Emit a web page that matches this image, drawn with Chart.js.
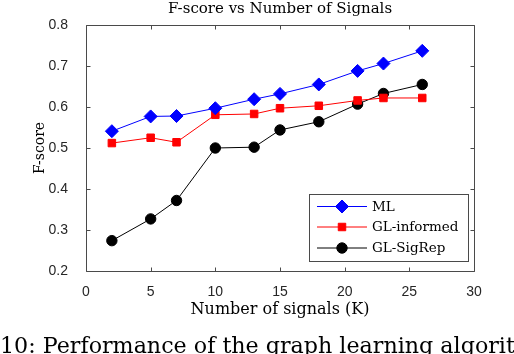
<!DOCTYPE html>
<html>
<head>
<meta charset="utf-8">
<script src="https://cdn.jsdelivr.net/npm/chart.js@4.4.0/dist/chart.umd.min.js"></script>
<style>
  html, body { margin: 0; padding: 0; background: #fff; }
  #wrap { position: relative; width: 514px; height: 354px; overflow: hidden; }
  #c { position: absolute; left: 0; top: 0; }
  #caption { position: absolute; left: 0; top: 334px; font-family: "DejaVu Serif", serif; font-size: 22.2px; line-height: 22px; white-space: nowrap; color: #000; }
</style>
</head>
<body>
<div id="wrap">
  <canvas id="c" width="514" height="354"></canvas>
  <div id="caption">10: Performance of the graph learning algorithms</div>
</div>
<script>
const numSignals = [2, 5, 7, 10, 13, 15, 18, 21, 23, 26];
const mlScores = [0.541, 0.577, 0.578, 0.597, 0.619, 0.632, 0.655, 0.688, 0.706, 0.737];
const glInformedScores = [0.512, 0.525, 0.514, 0.581, 0.583, 0.597, 0.603, 0.616, 0.622, 0.622];
const glSigRepScores = [0.274, 0.327, 0.372, 0.500, 0.502, 0.544, 0.564, 0.607, 0.633, 0.655];
const xTickLabels = ['0', '5', '10', '15', '20', '25', '30'];
const yTickLabels = ['0.2', '0.3', '0.4', '0.5', '0.6', '0.7', '0.8'];

const SERIF = '"DejaVu Serif", serif';
const SANS = '"Liberation Sans", Arial, sans-serif';
const AXIS_COLOR = '#4a4a4a';

function pts(ys) { return numSignals.map((x, i) => ({ x: x, y: ys[i] })); }

const boxTicks = {
  id: 'boxTicks',
  beforeDatasetsDraw(chart) {
    const { ctx, chartArea: a, scales } = chart;
    const L = Math.round(a.left) + 0.5, R = Math.round(a.right) + 0.5;
    const T = Math.round(a.top) + 0.5, B = Math.round(a.bottom) + 0.5;
    ctx.save();
    ctx.strokeStyle = AXIS_COLOR;
    ctx.lineWidth = 1;
    ctx.beginPath();
    ctx.rect(L, T, R - L, B - T);
    const tl = 4;
    scales.x.ticks.forEach(t => {
      const px = Math.round(scales.x.getPixelForValue(t.value)) + 0.5;
      ctx.moveTo(px, B); ctx.lineTo(px, B - tl);
      ctx.moveTo(px, T); ctx.lineTo(px, T + tl);
    });
    scales.y.ticks.forEach(t => {
      const py = Math.round(scales.y.getPixelForValue(t.value)) + 0.5;
      ctx.moveTo(L, py); ctx.lineTo(L + tl, py);
      ctx.moveTo(R, py); ctx.lineTo(R - tl, py);
    });
    ctx.stroke();
    ctx.restore();
  }
};

const boxLegend = {
  id: 'boxLegend',
  afterDraw(chart) {
    const { ctx } = chart;
    const bx = 309.5, by = 194.5, bw = 159, bh = 67;
    ctx.save();
    ctx.fillStyle = '#fff';
    ctx.fillRect(bx, by, bw, bh);
    ctx.strokeStyle = AXIS_COLOR;
    ctx.lineWidth = 1;
    ctx.strokeRect(bx, by, bw, bh);
    const rows = [206.5, 227, 248];
    chart.data.datasets.forEach((ds, i) => {
      const y = rows[i];
      ctx.strokeStyle = ds.borderColor;
      ctx.lineWidth = 1;
      ctx.beginPath();
      ctx.moveTo(317, y); ctx.lineTo(367, y);
      ctx.stroke();
      ctx.fillStyle = ds.pointBackgroundColor;
      ctx.strokeStyle = ds.borderColor;
      Chart.helpers.drawPoint(ctx, { pointStyle: ds.pointStyle, radius: ds.pointRadius, borderWidth: 1, rotation: 0 }, 342, y);
      ctx.fillStyle = '#000';
      ctx.font = '13.5px ' + SERIF;
      ctx.textBaseline = 'middle';
      ctx.textAlign = 'left';
      ctx.fillText(ds.label, 372, y + 0.5);
    });
    ctx.restore();
  }
};

new Chart(document.getElementById('c'), {
  type: 'line',
  data: {
    datasets: [
      { label: 'ML', data: pts(mlScores), borderColor: '#0000ff', backgroundColor: '#0000ff', pointBackgroundColor: '#0000ff', pointBorderColor: '#0000ff', pointStyle: 'rectRot', pointRadius: 6.5, borderWidth: 1, pointBorderWidth: 1, tension: 0 },
      { label: 'GL-informed', data: pts(glInformedScores), borderColor: '#ff0000', backgroundColor: '#ff0000', pointBackgroundColor: '#ff0000', pointBorderColor: '#ff0000', pointStyle: 'rect', pointRadius: 5.3, borderWidth: 1, pointBorderWidth: 1, tension: 0 },
      { label: 'GL-SigRep', data: pts(glSigRepScores), borderColor: '#000000', backgroundColor: '#000000', pointBackgroundColor: '#000000', pointBorderColor: '#000000', pointStyle: 'circle', pointRadius: 5.2, borderWidth: 1, pointBorderWidth: 1, tension: 0 }
    ]
  },
  options: {
    responsive: false,
    animation: false,
    events: [],
    layout: { padding: { left: 0, right: 40, top: 0, bottom: 0 } },
    plugins: {
      legend: { display: false },
      tooltip: { enabled: false },
      title: {
        display: true,
        text: 'F-score vs Number of Signals',
        color: '#000',
        fullSize: false,
        font: { family: SERIF, size: 15, weight: 'normal', lineHeight: 1.2 },
        padding: { top: 0, bottom: 7 }
      }
    },
    scales: {
      x: {
        type: 'linear',
        min: 0, max: 30,
        afterFit(s) { s.height = 83; },
        grid: { display: false },
        border: { display: false },
        ticks: {
          stepSize: 5,
          padding: 5,
          color: '#262626',
          font: { family: SANS, size: 14 },
          callback: (v) => xTickLabels[Math.round(v / 5)]
        },
        title: {
          display: true,
          text: 'Number of signals (K)',
          color: '#000',
          font: { family: SERIF, size: 16, lineHeight: 1.2 },
          padding: { top: 0, bottom: 35 }
        }
      },
      y: {
        min: 0.2, max: 0.8,
        afterFit(s) { s.width = 86; },
        grid: { display: false },
        border: { display: false },
        ticks: {
          stepSize: 0.1,
          padding: 10,
          color: '#262626',
          font: { family: SANS, size: 14 },
          callback: (v) => yTickLabels[Math.round((v - 0.2) / 0.1)]
        },
        title: {
          display: true,
          text: 'F-score',
          color: '#000',
          font: { family: SERIF, size: 14, lineHeight: 1.2 },
          padding: { top: 32, bottom: 0 }
        }
      }
    }
  },
  plugins: [boxTicks, boxLegend]
});
</script>
</body>
</html>
